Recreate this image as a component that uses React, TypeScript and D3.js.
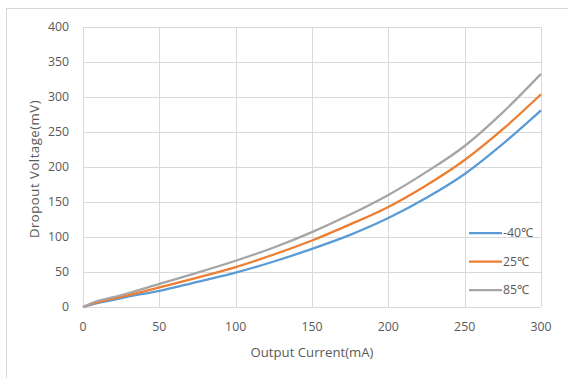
import React, { useEffect, useRef } from 'react';
import * as d3 from 'd3';

const currents = [0, 5, 10, 20, 30, 50, 75, 100, 125, 150, 175, 200, 225, 250, 275, 300];
const vMinus40 = [0, 3, 6, 10, 15, 23, 36, 49, 65, 83, 103, 127, 156, 190, 233, 281];
const v25 = [0, 4, 7, 12, 17, 28, 42, 57, 75, 95, 118, 143, 174, 210, 254, 304];
const v85 = [0, 5, 9, 14, 20, 33, 49, 66, 85, 107, 132, 160, 193, 230, 278, 333];

const seriesNames = ['-40℃', '25℃', '85℃'];
const seriesColors = ['#5B9BD5', '#ED7D31', '#A5A5A5'];
const xTicks = [0, 50, 100, 150, 200, 250, 300];
const yTicks = [0, 50, 100, 150, 200, 250, 300, 350, 400];

const App = () => {
  const ref = useRef<SVGSVGElement>(null);

  useEffect(() => {
    const W = 568, H = 378;
    const margin = { top: 27, right: 27, bottom: 71, left: 83 };
    const width = W - margin.left - margin.right;
    const height = H - margin.top - margin.bottom;
    const font = '"Open Sans", sans-serif';
    const fs = 12.3;
    const titleFs = 13.2;
    const textColor = '#595959';

    const root = d3.select(ref.current);
    root.selectAll('*').remove();
    root.attr('width', W).attr('height', H);

    // chart frame
    root.append('rect')
      .attr('x', 6.5).attr('y', 8.5)
      .attr('width', 600).attr('height', 400)
      .attr('fill', '#fff').attr('stroke', '#d9d9d9');

    const svg = root.append('g')
      .attr('transform', `translate(${margin.left},${margin.top})`);

    const x = d3.scaleLinear().domain([0, 300]).range([0, width]);
    const y = d3.scaleLinear().domain([0, 400]).range([height, 0]);

    // gridlines
    svg.append('g').selectAll('line.h').data(yTicks).join('line')
      .attr('x1', 0).attr('x2', width)
      .attr('y1', d => Math.round(y(d)) + 0.5).attr('y2', d => Math.round(y(d)) + 0.5)
      .attr('stroke', '#d9d9d9');
    svg.append('g').selectAll('line.v').data(xTicks).join('line')
      .attr('y1', 0).attr('y2', height)
      .attr('x1', d => Math.round(x(d)) + 0.5).attr('x2', d => Math.round(x(d)) + 0.5)
      .attr('stroke', '#d9d9d9');

    // tick labels
    svg.append('g').selectAll('text').data(yTicks).join('text')
      .attr('x', -14).attr('y', d => y(d))
      .attr('dy', '0.35em').attr('text-anchor', 'end')
      .attr('font-family', font).attr('font-size', fs).attr('fill', textColor)
      .text(d => d);
    svg.append('g').selectAll('text').data(xTicks).join('text')
      .attr('x', d => x(d)).attr('y', height + 20)
      .attr('dy', '0.35em').attr('text-anchor', 'middle')
      .attr('font-family', font).attr('font-size', fs).attr('fill', textColor)
      .text(d => d);

    // axis titles
    svg.append('text')
      .attr('x', width / 2).attr('y', height + 45)
      .attr('dy', '0.35em').attr('text-anchor', 'middle')
      .attr('font-family', font).attr('font-size', titleFs).attr('fill', textColor)
      .text('Output Current(mA)');
    svg.append('text')
      .attr('transform', `translate(${-49},${169 - margin.top}) rotate(-90)`)
      .attr('dy', '0.35em').attr('text-anchor', 'middle')
      .attr('font-family', font).attr('font-size', titleFs).attr('fill', textColor)
      .attr('letter-spacing', 0.5)
      .text('Dropout Voltage(mV)');

    // lines
    const allSeries = [vMinus40, v25, v85];
    const line = d3.line<number>()
      .curve(d3.curveMonotoneX)
      .x((_, i) => x(currents[i]))
      .y(d => y(d));
    allSeries.forEach((vals, i) => {
      svg.append('path')
        .datum(vals)
        .attr('fill', 'none')
        .attr('stroke', seriesColors[i])
        .attr('stroke-width', 2.25)
        .attr('stroke-linejoin', 'round')
        .attr('d', line);
    });

    // legend
    const legend = svg.append('g').attr('transform', `translate(${469 - margin.left},${233 - margin.top})`);
    seriesNames.forEach((name, i) => {
      const g = legend.append('g').attr('transform', `translate(0,${i * 28.5})`);
      g.append('line')
        .attr('x1', 0).attr('x2', 33).attr('y1', 0).attr('y2', 0)
        .attr('stroke', seriesColors[i]).attr('stroke-width', 2.25);
      g.append('text')
        .attr('x', 34).attr('y', 0).attr('dy', '0.35em')
        .attr('font-family', font).attr('font-size', fs).attr('fill', textColor)
        .text(name);
    });
  }, []);

  return (
    <svg ref={ref} style={{ position: 'fixed', left: 0, top: 0 }}></svg>
  );
};

export default App;
